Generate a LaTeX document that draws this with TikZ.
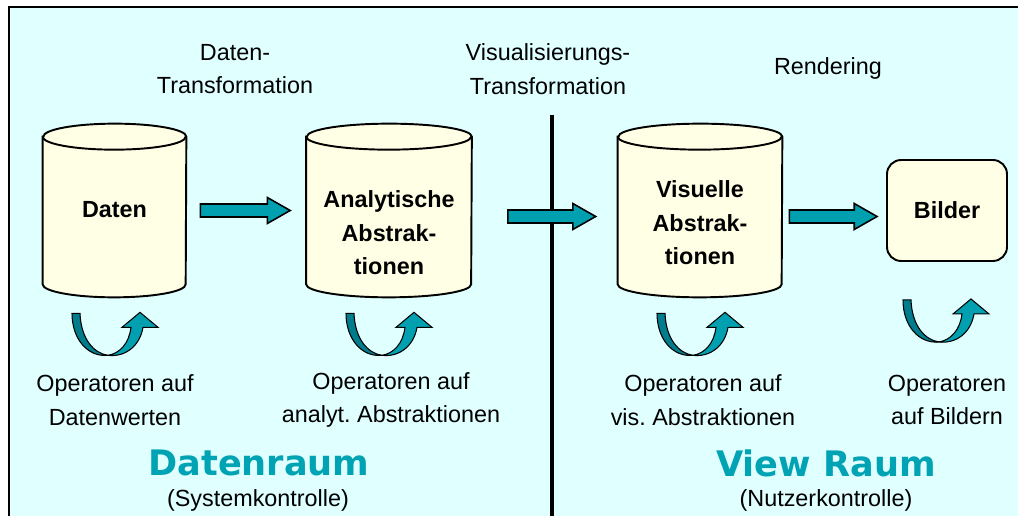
\documentclass[tikz,border=0pt]{standalone}
\usepackage{fontspec}
\setmainfont{Liberation Sans}
\newfontfamily\raumfont{DejaVu Sans}
\usetikzlibrary{shapes,calc,positioning}
\definecolor{bgcyan}{RGB}{224,255,255}
\definecolor{storefill}{RGB}{255,255,230}
\definecolor{arrowteal}{RGB}{0,160,176}
\definecolor{loopteal}{RGB}{0,124,140}
\definecolor{raumteal}{RGB}{0,163,180}
\frenchspacing

\tikzset{
  oploop/.pic={
    % dark falling band of the U
    \filldraw[fill=loopteal, line width=0.6pt] (0,0) -- (8,0) .. controls (9,26) and (22,40) .. (36,42) .. controls (16,44) and (0,26) .. (0,0) -- cycle;
    % rising arm with its head
    \filldraw[fill=arrowteal, line width=0.6pt] (36,42) .. controls (48,40) and (57,30) .. (59,14) -- (50,14) -- (68,-1) -- (86,14) -- (71,14) .. controls (68,32) and (54,44) .. (36,42) -- cycle;
  }
}
% cylinder round a storebody node: #1 node, #2 half width (pt)
\newcommand{\drawstore}[2]{%
  \filldraw[fill=storefill, line width=1.1pt] (#1.north west) -- (#1.south west)
    arc[start angle=180, end angle=360, x radius=#2, y radius=7.4pt] -- (#1.north east)
    arc[start angle=0, end angle=180, x radius=#2, y radius=7.4pt] -- cycle;
  \draw[line width=1.1pt] (#1.north west) arc[start angle=180, end angle=360, x radius=#2, y radius=7.4pt];
}

\begin{document}
\begin{tikzpicture}[x=0.02cm, y=-0.02cm,
  storebody/.style={rectangle, minimum width=3.3cm, minimum height=2.94cm, inner sep=0pt},
  imgbox/.style={rectangle, rounded corners=8pt, draw, line width=1.1pt, fill=storefill, minimum width=2.4cm, minimum height=2.02cm},
  blockarrow/.style={draw, line width=0.9pt, fill=arrowteal, to path={let \p1=(\tikztostart), \p2=(\tikztotarget) in (\x1,\y1+3.7pt) -- (\x2-13pt,\y1+3.7pt) -- (\x2-13pt,\y1+7.4pt) -- (\x2,\y1) -- (\x2-13pt,\y1-7.4pt) -- (\x2-13pt,\y1-3.7pt) -- (\x1,\y1-3.7pt) -- cycle}},
  inlabel/.style={font=\fontsize{13.3}{19}\selectfont\bfseries, align=center},
  oplabel/.style={font=\fontsize{13.3}{19}\selectfont, align=center},
  raum/.style={font=\fontsize{20}{24}\selectfont\raumfont\bfseries, text=raumteal}]
\useasboundingbox (0,0) rectangle (1018,516);
\fill[bgcyan] (9,7) rectangle (1018,516);
\draw[line width=1.2pt] (9,516) -- (9,7) -- (1018,7);

% Systemgrenze
\coordinate (divtop) at (552,115);
\draw[line width=1.8pt] (divtop) -- (552,516);

% Datenspeicher
\node[storebody, minimum width=2.86cm] (daten) at (114.5,210.5) {};
\drawstore{daten}{40.7pt}
\node[inlabel] (daten-text) at (114.5,210) {Daten};
\node[storebody] (analyt) at (389,210.5) {};
\drawstore{analyt}{46.95pt}
\node[inlabel] (analyt-text) at (389,233) {Analytische\\Abstrak-\\tionen};
\node[storebody, minimum width=3.28cm] (visuell) at (700,210.5) {};
\drawstore{visuell}{46.67pt}
\node[inlabel] (visuell-text) at (700,223) {Visuelle\\Abstrak-\\tionen};
\node[imgbox, inlabel] (bilder) at (947,210.5) {Bilder};

% Transformationen
\draw[blockarrow] ($(daten.east)+(14,0)$) to ($(analyt.west)+(-16,0)$);
\draw[blockarrow] ($(analyt.east)+(36,6)$) to ($(visuell.west)+(-22,6)$);
\draw[blockarrow] ($(visuell.east)+(7,6)$) to ($(bilder.west)+(-9,6)$);

\node[oplabel] (datentrafo) at (235,69) {Daten-\\Transformation};
\node[oplabel] (vistrafo) at (548,69) {Visualisierungs-\\Transformation};
\node[oplabel] (rendering) at (828,68) {Rendering};

% Operatoren
\pic at ($(daten.south)+(-42.5,29)$) {oploop};
\pic at ($(analyt.south)+(-43,29)$) {oploop};
\pic at ($(visuell.south)+(-43,29)$) {oploop};
\pic at ($(bilder.south)+(-44,38)$) {oploop};

\node[oplabel] (op-daten) at (115,400) {Operatoren auf\\Datenwerten};
\node[oplabel] (op-analyt) at (391,400) {Operatoren auf\\analyt. Abstraktionen};
\node[oplabel] (op-visuell) at (703,400) {Operatoren auf\\vis. Abstraktionen};
\node[oplabel] (op-bilder) at (947,400) {Operatoren\\auf Bildern};

% Raeume
\node[raum] (datenraum) at (259,463) {Datenraum};
\node[oplabel] (systemk) at (258,500) {(Systemkontrolle)};
\node[raum] (viewraum) at (826,463) {View Raum};
\node[oplabel] (nutzerk) at (826,500) {(Nutzerkontrolle)};
\end{tikzpicture}
\end{document}
